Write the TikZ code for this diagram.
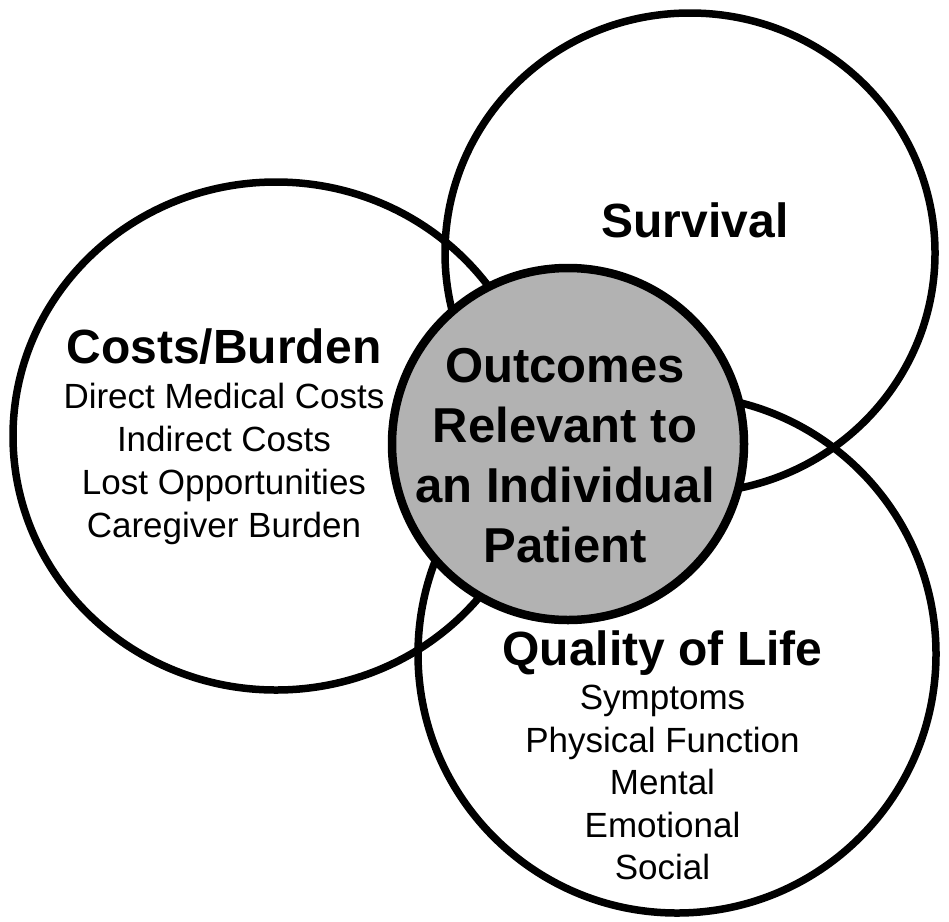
\documentclass[tikz,border=0pt]{standalone}
\usepackage{fontspec}
\setmainfont{Liberation Sans}
\usetikzlibrary{shapes.geometric}
\definecolor{centergray}{RGB}{178,178,178}
\begin{document}
\begin{tikzpicture}[x=1pt,y=-1pt,
  ring/.style={ellipse, draw=black, line width=7.5pt, inner sep=0pt},
  hub/.style={circle, draw=black, fill=centergray, line width=8.5pt, inner sep=0pt, minimum size=352pt},
  heading/.style={font=\bfseries\fontsize{48}{60}\selectfont, anchor=base, inner sep=0pt},
  items/.style={font=\fontsize{35}{43}\selectfont, align=center, inner sep=0pt},
]
\fill[white] (0,0) rectangle (949,921);
\useasboundingbox (0,0) rectangle (949,921);
\node[ring, minimum width=526pt, minimum height=508pt] (costs) at (276,436) {};
\node[ring, minimum width=490pt, minimum height=480pt] (survival) at (690,253) {};
\node[ring, minimum width=518pt, minimum height=518pt] (qol) at (677,654) {};
\node[hub] (outcomes) at (568,444) {};
\node[font=\bfseries\fontsize{49}{60}\selectfont, align=center, inner sep=0pt] (outtext) at (565,455.5) {Outcomes\\Relevant to\\an Individual\\Patient};
\node[heading] (costshead) at (224,363) {Costs/Burden};
\node[items] (costsitems) at (224,463.5) {Direct Medical Costs\\Indirect Costs\\Lost Opportunities\\Caregiver Burden};
\node[heading] (survhead) at (695,237) {Survival};
\node[heading] (qolhead) at (662.5,665) {Quality of Life};
\node[items, font=\fontsize{35}{42.5}\selectfont] (qolitems) at (662.5,782.5) {Symptoms\\Physical Function\\Mental\\Emotional\\Social};
\end{tikzpicture}
\end{document}
